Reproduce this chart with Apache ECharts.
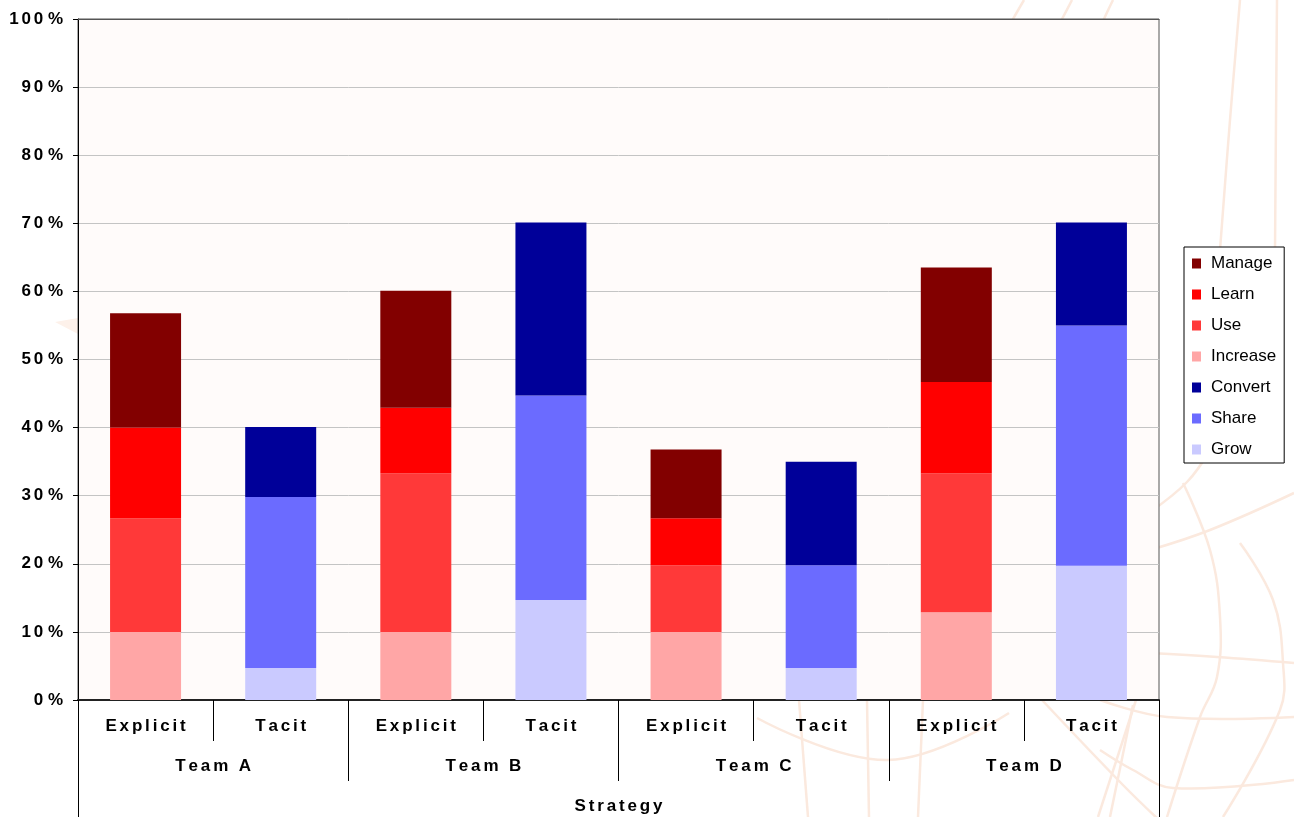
<!DOCTYPE html>
<html>
<head>
<meta charset="utf-8">
<title>Strategy</title>
<script src="https://cdn.jsdelivr.net/npm/echarts@6/dist/echarts.min.js"></script>
<style>
  html, body { margin: 0; padding: 0; background: #fff; }
  #chart { width: 1294px; height: 817px; }
</style>
</head>
<body>
<div id="chart"></div>
<script>
// ---- data ----
const strategies = ['Explicit', 'Tacit'];
const teams = ['Team A', 'Team B', 'Team C', 'Team D'];
const outerLabel = ['Strategy'];
const yTicks = { min: 0, max: 100, step: 10 };

// explicit strategy parts (%), one value per team
const increase = [10, 10, 10, 12.9];
const use = [16.7, 23.3, 9.8, 20.4];
const learn = [13.3, 9.6, 6.9, 13.4];
const manage = [16.8, 17.2, 10.1, 16.8];
// tacit strategy parts (%), one value per team
const grow = [4.7, 14.7, 4.7, 19.7];
const share = [25.1, 30, 15.1, 35.3];
const convert = [10.3, 25.4, 15.2, 15.1];

const legendOrder = ['Manage', 'Learn', 'Use', 'Increase', 'Convert', 'Share', 'Grow'];

// the old chart draws its labels spread out -> small spaces between letters
const spread = s => s.split('').join('\u2006');

// one category per team x strategy
const categories = [];
teams.forEach(() => strategies.forEach(s => categories.push(spread(s))));

// put team values on the Explicit (slot 0) or Tacit (slot 1) column
function place(vals, slot) {
  const out = [];
  vals.forEach(v => {
    out.push(slot === 0 ? v : '-');
    out.push(slot === 1 ? v : '-');
  });
  return out;
}

const seriesDefs = [
  { name: 'Increase', vals: increase, slot: 0, color: '#ffa6a6' },
  { name: 'Use', vals: use, slot: 0, color: '#ff3939' },
  { name: 'Learn', vals: learn, slot: 0, color: '#ff0000' },
  { name: 'Manage', vals: manage, slot: 0, color: '#820000' },
  { name: 'Grow', vals: grow, slot: 1, color: '#cacaff' },
  { name: 'Share', vals: share, slot: 1, color: '#6b6bff' },
  { name: 'Convert', vals: convert, slot: 1, color: '#000099' }
];

// faint background pattern of the slide
const deco = '#fbe9de';
const decoLines = [
  [[990, 60], [1013, 19], [1024, 0]],
  [[1050, 40], [1062, 19], [1072, 0]],
  [[1095, 40], [1104, 19], [1113, 0]],
  [[1240, 0], [1230, 120], [1220, 250]],
  [[1277, 0], [1276, 120], [1275, 250]],
  [[1183, 483], [1210, 550], [1220, 617], [1217, 677], [1200, 717], [1167, 817]],
  [[1240, 543], [1273, 600], [1283, 663], [1280, 710], [1223, 817]],
  [[1150, 550], [1210, 530], [1294, 493]],
  [[1150, 512], [1187, 482], [1210, 450]],
  [[1150, 653], [1217, 657], [1294, 663]],
  [[1100, 700], [1167, 717], [1294, 717]],
  [[1100, 750], [1133, 770], [1173, 788], [1294, 780]],
  [[1133, 705], [1117, 783], [1110, 817]],
  [[757, 718], [888, 760], [1009, 713]],
  [[799, 700], [808, 817]],
  [[867, 700], [869, 817]],
  [[923, 700], [918, 817]],
  [[1042, 700], [1122, 784], [1159, 820]],
  [[1136, 700], [1098, 817]]
];

const chart = echarts.init(document.getElementById('chart'));

const labelFont = {
  color: '#000',
  fontFamily: 'Liberation Sans, Arial, sans-serif',
  fontWeight: 'bold',
  fontSize: 17
};

const option = {
  backgroundColor: '#fff',
  animation: false,
  graphic: decoLines.map(pts => ({
    type: 'polyline',
    z: -10,
    silent: true,
    shape: { points: pts, smooth: 0.4 },
    style: { stroke: deco, lineWidth: 2.5, fill: null }
  })).concat([{
    // little wedge peeking out left of the plot
    type: 'polygon',
    z: -10,
    silent: true,
    shape: { points: [[55, 322], [78, 318], [78, 334]] },
    style: { fill: '#fdf1ea' }
  }]),
  grid: {
    left: 78,
    right: 135,
    top: 19,
    bottom: 117,
    show: true,
    backgroundColor: '#fffbfa',
    borderColor: '#555',
    borderWidth: 1
  },
  legend: {
    orient: 'vertical',
    left: 1184,
    top: 247,
    data: legendOrder,
    icon: 'rect',
    itemWidth: 9,
    itemHeight: 10,
    itemGap: 14,
    padding: [8, 8, 5, 8],
    backgroundColor: '#fff',
    borderColor: '#000',
    borderWidth: 1,
    borderRadius: 0,
    selectedMode: false,
    textStyle: {
      color: '#000',
      fontFamily: 'Liberation Sans, Arial, sans-serif',
      fontSize: 17,
      lineHeight: 17,
      padding: [0, 0, 0, 5]
    }
  },
  xAxis: [
    {
      type: 'category',
      data: categories,
      position: 'bottom',
      axisLine: { show: true, lineStyle: { color: '#222', width: 2 } },
      axisTick: { show: true, length: 41, lineStyle: { color: '#000' } },
      axisLabel: Object.assign({ margin: 18, interval: 0 }, labelFont),
      splitLine: { show: false }
    },
    {
      type: 'category',
      data: teams.map(spread),
      position: 'bottom',
      axisLine: { show: false },
      axisTick: { show: true, length: 81, lineStyle: { color: '#000' } },
      axisLabel: Object.assign({ margin: 58, interval: 0 }, labelFont),
      splitLine: { show: false }
    },
    {
      type: 'category',
      data: outerLabel.map(spread),
      position: 'bottom',
      axisLine: { show: false },
      axisTick: { show: true, length: 117, lineStyle: { color: '#000' } },
      axisLabel: Object.assign({ margin: 98, interval: 0 }, labelFont),
      splitLine: { show: false }
    },
    {
      // only the dark top edge of the plot frame
      type: 'category',
      data: categories,
      position: 'top',
      axisLine: { show: true, lineStyle: { color: '#555', width: 1 } },
      axisTick: { show: false },
      axisLabel: { show: false },
      splitLine: { show: false }
    }
  ],
  yAxis: {
    type: 'value',
    min: yTicks.min,
    max: yTicks.max,
    interval: yTicks.step,
    axisLine: { show: true, lineStyle: { color: '#000', width: 1 } },
    axisTick: { show: true, length: 5, lineStyle: { color: '#000' } },
    axisLabel: Object.assign({
      margin: 15,
      formatter: v => spread(String(v)) + ' %'
    }, labelFont),
    splitLine: {
      show: true,
      lineStyle: { color: '#c4c4c4', width: 1 }
    }
  },
  series: seriesDefs.map(d => ({
    name: d.name,
    type: 'bar',
    stack: 'total',
    xAxisIndex: 0,
    barWidth: 71,
    itemStyle: { color: d.color },
    data: place(d.vals, d.slot)
  }))
};

chart.setOption(option);
</script>
</body>
</html>
